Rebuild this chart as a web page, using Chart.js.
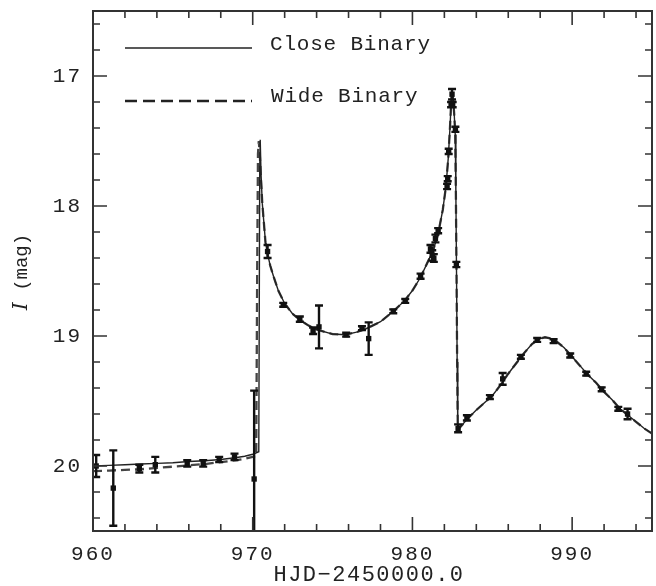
<!DOCTYPE html>
<html>
<head>
<meta charset="utf-8">
<script src="https://cdn.jsdelivr.net/npm/chart.js@4.4.1/dist/chart.umd.min.js"></script>
<style>
  html, body { margin: 0; padding: 0; background: #fff; }
  #lightcurve { display: block; }
</style>
</head>
<body>
<canvas id="lightcurve" width="656" height="586"></canvas>
<script>
// observed photometry: HJD-2450000, I mag, 1-sigma error
const obsDay = [960.2, 961.27, 962.9, 963.9, 965.9, 966.9, 967.9, 968.86, 970.09,
  970.93, 971.91, 972.95, 973.78, 974.15, 975.85, 976.84, 977.26, 978.8, 979.55,
  980.51, 981.13, 981.24, 981.34, 981.44, 981.61, 982.17, 982.21, 982.27, 982.42,
  982.52, 982.48, 982.69, 982.75, 982.86, 983.41, 984.85, 985.65, 986.79, 987.81,
  988.84, 989.88, 990.88, 991.85, 992.89, 993.47];
const obsMag = [20.0, 20.17, 20.02, 19.99, 19.98, 19.98, 19.95, 19.93, 20.1,
  18.35, 18.76, 18.87, 18.96, 18.93, 18.99, 18.94, 19.02, 18.81, 18.73,
  18.54, 18.33, 18.38, 18.40, 18.25, 18.19, 17.85, 17.79, 17.58, 17.22,
  17.22, 17.14, 17.41, 18.45, 19.71, 19.63, 19.47, 19.33, 19.16, 19.03,
  19.04, 19.15, 19.29, 19.41, 19.56, 19.60];
const obsErr = [0.085, 0.29, 0.03, 0.06, 0.025, 0.025, 0.02, 0.025, 0.68,
  0.05, 0.015, 0.02, 0.025, 0.165, 0.015, 0.015, 0.125, 0.015, 0.015,
  0.02, 0.03, 0.04, 0.03, 0.03, 0.02, 0.02, 0.02, 0.02, 0.02,
  0.02, 0.04, 0.02, 0.02, 0.03, 0.02, 0.015, 0.045, 0.015, 0.015,
  0.015, 0.015, 0.015, 0.015, 0.015, 0.04];

// close binary model
const closeDay = [960, 961, 962, 963, 964, 965, 966, 967, 968, 969, 969.5, 970, 970.38,
  970.44, 970.47, 970.52, 970.6, 970.7, 970.8, 970.95, 971.1, 971.3, 971.6, 972, 972.5,
  973, 973.5, 974, 975, 975.8, 976.5, 977, 978, 978.8, 979.5, 980, 980.5, 981, 981.3,
  981.6, 981.9, 982.1, 982.25, 982.35, 982.42, 982.48, 982.55, 982.62, 982.68, 982.72,
  982.76, 982.8, 982.84, 983, 983.5, 984, 985, 985.5, 986, 986.5, 987, 987.5, 988,
  988.3, 988.7, 989, 989.5, 990, 990.5, 991, 991.5, 992, 992.5, 993, 993.5, 994,
  994.5, 995];
const closeMag = [20.0, 19.995, 19.99, 19.985, 19.98, 19.975, 19.965, 19.96, 19.95, 19.935, 19.925, 19.91, 19.89,
  17.7, 17.49, 17.75, 17.98, 18.13, 18.28, 18.38, 18.46, 18.54, 18.65, 18.75, 18.83,
  18.88, 18.92, 18.95, 18.985, 18.99, 18.97, 18.95, 18.89, 18.81, 18.73, 18.65, 18.55, 18.42, 18.34,
  18.22, 18.03, 17.85, 17.62, 17.4, 17.22, 17.11, 17.18, 17.3, 17.45, 17.9,
  18.5, 19.2, 19.72, 19.7, 19.63, 19.57, 19.46, 19.38, 19.29, 19.21, 19.13, 19.06, 19.02,
  19.01, 19.02, 19.04, 19.09, 19.16, 19.23, 19.3, 19.36, 19.43, 19.49, 19.56, 19.61, 19.66,
  19.71, 19.75];

// wide binary model
const wideDay = [960, 961, 962, 963, 964, 965, 966, 967, 968, 969, 969.5, 970, 970.22,
  970.28, 970.33, 970.38, 970.45, 970.52, 970.6, 970.7, 970.8, 970.95, 971.1, 971.3, 971.6,
  972, 972.5, 973, 973.5, 974, 975, 975.8, 976.5, 977, 978, 978.8, 979.5, 980, 980.5,
  981, 981.3, 981.6, 981.9, 982.1, 982.25, 982.35, 982.42, 982.48, 982.55, 982.62, 982.68,
  982.72, 982.76, 982.8, 982.84, 983, 983.5, 984, 985, 985.5, 986, 986.5, 987, 987.5,
  988, 988.3, 988.7, 989, 989.5, 990, 990.5, 991, 991.5, 992, 992.5, 993, 993.5, 994,
  994.5, 995];
const wideMag = [20.04, 20.035, 20.03, 20.025, 20.015, 20.005, 19.995, 19.985, 19.97, 19.955, 19.945, 19.93, 19.92,
  18.5, 17.6, 17.5, 17.62, 17.8, 17.98, 18.13, 18.28, 18.38, 18.46, 18.54, 18.65,
  18.75, 18.83, 18.88, 18.92, 18.95, 18.985, 18.99, 18.97, 18.95, 18.89, 18.81, 18.73, 18.65, 18.55,
  18.42, 18.34, 18.22, 18.03, 17.85, 17.62, 17.4, 17.22, 17.11, 17.18, 17.3, 17.45,
  17.9, 18.5, 19.2, 19.72, 19.7, 19.63, 19.57, 19.46, 19.38, 19.29, 19.21, 19.13, 19.06,
  19.02, 19.01, 19.02, 19.04, 19.09, 19.16, 19.23, 19.3, 19.36, 19.43, 19.49, 19.56, 19.61, 19.66,
  19.71, 19.75];

const xMajor = [960, 970, 980, 990];
const yMajor = [17, 18, 19, 20];
const seriesNames = ['Close Binary', 'Wide Binary'];
const xTitle = 'HJD\u22122450000.0';

const FONT = '"Liberation Mono", "DejaVu Sans Mono", monospace';
const INK = '#222';

// wider letter spacing for the tick labels, like the original plot font
const spacing = {
  id: 'spacing',
  beforeDraw(chart) { chart.ctx.letterSpacing = '2px'; }
};

// vertical error bars with caps, drawn from the scales
const errorBars = {
  id: 'errorBars',
  afterDatasetsDraw(chart) {
    const { ctx, chartArea: a, scales: { x, y } } = chart;
    ctx.save();
    ctx.beginPath();
    ctx.rect(a.left, a.top, a.right - a.left, a.bottom - a.top);
    ctx.clip();
    ctx.strokeStyle = '#111';
    ctx.lineWidth = 2.4;
    ctx.beginPath();
    obsDay.forEach((d, i) => {
      const px = x.getPixelForValue(d);
      const y1 = y.getPixelForValue(obsMag[i] - obsErr[i]);
      const y2 = y.getPixelForValue(obsMag[i] + obsErr[i]);
      ctx.moveTo(px, y1); ctx.lineTo(px, y2);
      ctx.moveTo(px - 4, y1); ctx.lineTo(px + 4, y1);
      ctx.moveTo(px - 4, y2); ctx.lineTo(px + 4, y2);
    });
    ctx.stroke();
    ctx.restore();
  }
};

// box, inward ticks on all sides, legend and axis titles
const frame = {
  id: 'frame',
  afterDraw(chart) {
    const { ctx, chartArea: a, scales: { x, y } } = chart;
    ctx.save();
    ctx.strokeStyle = '#333';
    ctx.lineWidth = 1.6;
    ctx.beginPath();
    for (let v = 960; v < 995; v += 2) {
      const px = x.getPixelForValue(v);
      const len = v % 10 === 0 ? 14 : 7;
      ctx.moveTo(px, a.bottom); ctx.lineTo(px, a.bottom - len);
      ctx.moveTo(px, a.top); ctx.lineTo(px, a.top + len);
    }
    for (let k = 83; k <= 102; k++) {
      const py = y.getPixelForValue(k / 5);
      const len = k % 5 === 0 ? 14 : 7;
      ctx.moveTo(a.left, py); ctx.lineTo(a.left + len, py);
      ctx.moveTo(a.right, py); ctx.lineTo(a.right - len, py);
    }
    ctx.stroke();
    ctx.lineWidth = 2;
    ctx.strokeRect(a.left, a.top, a.right - a.left, a.bottom - a.top);

    // legend
    ctx.strokeStyle = INK;
    ctx.lineWidth = 1.3;
    ctx.beginPath(); ctx.moveTo(125, 48); ctx.lineTo(252, 48); ctx.stroke();
    ctx.lineWidth = 2.5;
    ctx.setLineDash([12, 6]);
    ctx.beginPath(); ctx.moveTo(125, 101); ctx.lineTo(252, 101); ctx.stroke();
    ctx.setLineDash([]);
    ctx.fillStyle = INK;
    ctx.textBaseline = 'middle';
    ctx.textAlign = 'left';
    ctx.font = '21px ' + FONT;
    ctx.letterSpacing = '0.8px';
    ctx.fillText(seriesNames[0], 270, 44);
    ctx.fillText(seriesNames[1], 271, 96);

    // x title
    ctx.textAlign = 'center';
    ctx.font = '22px ' + FONT;
    ctx.letterSpacing = '1.5px';
    ctx.fillText(xTitle, 369, 575);

    // y title, italic I
    ctx.letterSpacing = '0px';
    ctx.translate(22, 272);
    ctx.rotate(-Math.PI / 2);
    ctx.textAlign = 'left';
    ctx.font = '19px ' + FONT;
    const rest = ' (mag)';
    const wRest = ctx.measureText(rest).width;
    ctx.font = 'italic 20px "DejaVu Serif", serif';
    const wI = ctx.measureText('I').width;
    const start = -(wI + wRest) / 2;
    ctx.fillText('I', start, 0);
    ctx.font = '19px ' + FONT;
    ctx.fillText(rest, start + wI, 0);
    ctx.restore();
  }
};

const toPoints = (xs, ys) => xs.map((d, i) => ({ x: d, y: ys[i] }));

new Chart(document.getElementById('lightcurve'), {
  type: 'scatter',
  data: {
    datasets: [
      {
        label: 'OGLE I',
        data: toPoints(obsDay, obsMag),
        pointStyle: 'rect',
        pointRadius: 3.8,
        backgroundColor: '#111',
        borderColor: '#111',
        borderWidth: 0,
        order: 0
      },
      {
        label: seriesNames[0],
        data: toPoints(closeDay, closeMag),
        showLine: true,
        pointRadius: 0,
        borderColor: '#222',
        borderWidth: 1.4,
        order: 1
      },
      {
        label: seriesNames[1],
        data: toPoints(wideDay, wideMag),
        showLine: true,
        pointRadius: 0,
        borderColor: '#444',
        borderWidth: 2.3,
        borderDash: [9, 5],
        order: 2
      }
    ]
  },
  options: {
    responsive: false,
    animation: false,
    devicePixelRatio: 1,
    layout: { padding: { top: 11, right: 1, left: 0, bottom: 0 } },
    plugins: { legend: { display: false }, tooltip: { enabled: false } },
    scales: {
      x: {
        type: 'linear', min: 960, max: 995,
        grid: { display: false, drawTicks: false },
        border: { display: false },
        afterBuildTicks: s => { s.ticks = xMajor.map(v => ({ value: v })); },
        afterFit: s => { s.height = 55; s.paddingLeft = 0; s.paddingRight = 0; },
        ticks: { padding: 11, maxRotation: 0, color: INK, font: { family: FONT, size: 21 } }
      },
      y: {
        type: 'linear', min: 16.5, max: 20.5, reverse: true,
        grid: { display: false, drawTicks: false },
        border: { display: false },
        afterBuildTicks: s => { s.ticks = yMajor.map(v => ({ value: v })); },
        afterFit: s => { s.width = 93; s.paddingTop = 0; s.paddingBottom = 0; },
        ticks: { padding: 11, color: INK, font: { family: FONT, size: 21 } }
      }
    }
  },
  plugins: [spacing, errorBars, frame]
});
</script>
</body>
</html>
